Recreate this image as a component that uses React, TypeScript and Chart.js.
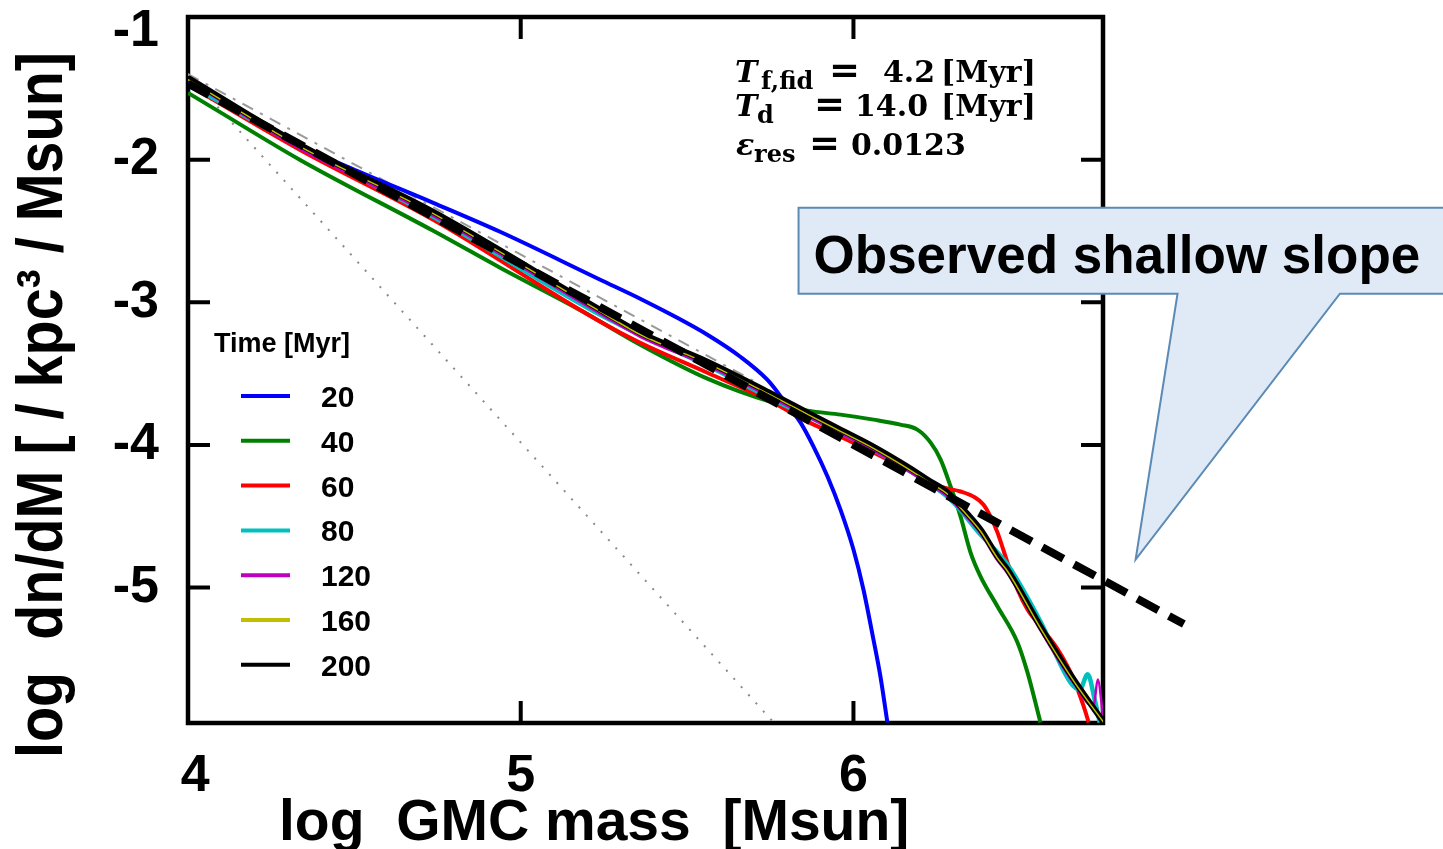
import React, { useEffect, useRef } from "react";
import { Chart, registerables } from "chart.js";

Chart.register(...registerables);

// ---------- axes ----------
const X_MIN = 4;
const X_MAX = 6.75;
const Y_MIN = -5.95;
const Y_MAX = -1;
const xTickValues = [4, 5, 6];
const yTickValues = [-1, -2, -3, -4, -5];

// ---------- series (log M, log dn/dM) ----------
const timeLabels = ["20", "40", "60", "80", "120", "160", "200"];
const timeColors = ["#0000ff", "#008000", "#ff0000", "#00c0c0", "#c000c0", "#c0c000", "#000000"];
const timeWidths = [4, 4, 4, 4.5, 2.5, 1.5, 6];

const logM20 = [4.0, 4.337, 4.487, 4.737, 4.938, 5.239, 5.359, 5.459, 5.561, 5.66, 5.741, 5.789, 5.841, 5.88, 5.922, 5.961, 6.0, 6.03, 6.06, 6.081, 6.102];
const logN20 = [-1.455, -1.897, -2.058, -2.303, -2.506, -2.842, -2.975, -3.095, -3.228, -3.382, -3.543, -3.683, -3.844, -4.012, -4.222, -4.454, -4.734, -5.014, -5.364, -5.623, -5.946];

const logM40 = [4.0, 4.075, 4.337, 4.737, 4.938, 5.188, 5.359, 5.561, 5.759, 5.862, 5.961, 6.06, 6.141, 6.192, 6.232, 6.262, 6.292, 6.322, 6.352, 6.382, 6.433, 6.493, 6.523, 6.562];
const logN40 = [-1.532, -1.637, -2.002, -2.499, -2.758, -3.067, -3.298, -3.536, -3.704, -3.76, -3.788, -3.823, -3.858, -3.893, -3.984, -4.103, -4.292, -4.503, -4.755, -4.923, -5.133, -5.385, -5.595, -5.946];

const logM60 = [4.0, 4.337, 4.737, 5.239, 5.359, 5.561, 5.759, 5.862, 5.961, 6.06, 6.162, 6.262, 6.322, 6.361, 6.391, 6.412, 6.433, 6.463, 6.493, 6.523, 6.562, 6.614, 6.662, 6.692, 6.707];
const logN60 = [-1.476, -1.932, -2.422, -3.137, -3.284, -3.494, -3.704, -3.837, -3.942, -4.054, -4.173, -4.292, -4.327, -4.363, -4.419, -4.503, -4.615, -4.825, -5.014, -5.154, -5.273, -5.434, -5.644, -5.834, -5.946];

const logM80 = [4.0, 4.337, 4.737, 5.239, 5.359, 5.561, 5.759, 5.961, 6.162, 6.292, 6.382, 6.463, 6.562, 6.652, 6.68, 6.704, 6.725, 6.74];
const logN80 = [-1.469, -1.911, -2.401, -3.088, -3.228, -3.445, -3.683, -3.914, -4.173, -4.384, -4.629, -4.839, -5.238, -5.665, -5.715, -5.609, -5.786, -5.946];

const logM120 = [4.0, 4.337, 4.737, 5.239, 5.359, 5.561, 5.759, 5.862, 5.961, 6.06, 6.162, 6.222, 6.283, 6.331, 6.382, 6.433, 6.463, 6.562, 6.662, 6.722, 6.734, 6.752];
const logN120 = [-1.445, -1.925, -2.394, -3.081, -3.242, -3.445, -3.676, -3.802, -3.921, -4.04, -4.18, -4.271, -4.362, -4.482, -4.622, -4.811, -4.902, -5.301, -5.672, -5.834, -5.645, -5.946];

const logM160 = [4.0, 4.337, 4.737, 5.239, 5.359, 5.561, 5.759, 5.862, 5.961, 6.06, 6.162, 6.222, 6.283, 6.331, 6.382, 6.433, 6.463, 6.562, 6.662, 6.752];
const logN160 = [-1.439, -1.909, -2.378, -3.065, -3.226, -3.429, -3.66, -3.786, -3.905, -4.024, -4.164, -4.255, -4.346, -4.466, -4.606, -4.795, -4.886, -5.285, -5.656, -5.946];

const logM200 = [4.0, 4.337, 4.737, 5.239, 5.359, 5.561, 5.759, 5.862, 5.961, 6.06, 6.162, 6.222, 6.283, 6.331, 6.382, 6.433, 6.463, 6.562, 6.662, 6.752];
const logN200 = [-1.427, -1.897, -2.366, -3.053, -3.214, -3.417, -3.648, -3.774, -3.893, -4.012, -4.152, -4.243, -4.334, -4.454, -4.594, -4.783, -4.874, -5.273, -5.644, -5.946];

// observed shallow slope (thick dashed)
const logMObs = [4.0, 6.993];
const logNObs = [-1.467, -5.256];
// grey dash-dot reference
const logMRef = [4.0, 5.7];
const logNRef = [-1.4, -3.552];
// grey dotted steep reference
const logMSteep = [4.0, 5.8];
const logNSteep = [-1.4, -6.05];

// callout (data coordinates)
const calloutBoxM = [5.835, 7.8];
const calloutBoxN = [-2.338, -2.94];
const calloutTailM = [6.974, 7.462];
const calloutTip = [6.848, -4.804];
const calloutTextPos = [5.88, -2.793];
const calloutText = "Observed shallow slope";

const SANS = "'Liberation Sans', Arial, Helvetica, sans-serif";
const SERIF = "'DejaVu Serif', serif";

const pts = (ms: number[], ns: number[]) => ms.map((m, i) => ({ x: m, y: ns[i] }));

const seriesM = [logM20, logM40, logM60, logM80, logM120, logM160, logM200];
const seriesN = [logN20, logN40, logN60, logN80, logN120, logN160, logN200];
// drawing order (lower = on top)
const seriesOrder = [9, 8, 7, 6, 5, 2, 3];

const framePlugin = {
  id: "frame",
  beforeDatasetsDraw(chart: any) {
    const { ctx, chartArea: a, scales } = chart;
    const xs = scales.x;
    const ys = scales.y;
    ctx.save();
    ctx.strokeStyle = "#000";
    ctx.lineWidth = 4.5;
    ctx.strokeRect(a.left, a.top, a.right - a.left, a.bottom - a.top);
    ctx.lineWidth = 4;
    const L = 22;
    ctx.beginPath();
    for (const v of xTickValues) {
      const px = xs.getPixelForValue(v);
      ctx.moveTo(px, a.bottom);
      ctx.lineTo(px, a.bottom - L);
      ctx.moveTo(px, a.top);
      ctx.lineTo(px, a.top + L);
    }
    for (const v of yTickValues) {
      const py = ys.getPixelForValue(v);
      ctx.moveTo(a.left, py);
      ctx.lineTo(a.left + L, py);
      ctx.moveTo(a.right, py);
      ctx.lineTo(a.right - L, py);
    }
    ctx.stroke();
    ctx.restore();
  },
};

const overlayPlugin = {
  id: "overlay",
  afterDraw(chart: any) {
    const { ctx, scales } = chart;
    const xs = scales.x;
    const ys = scales.y;
    const X = (v: number) => xs.getPixelForValue(v);
    const Y = (v: number) => ys.getPixelForValue(v);
    ctx.save();
    ctx.fillStyle = "#000";
    ctx.textBaseline = "alphabetic";
    ctx.textAlign = "left";

    // axis titles
    ctx.font = `bold 57px ${SANS}`;
    ctx.fillText("log  GMC mass  [Msun]", 279, 840);
    ctx.save();
    const yTitle = "log  dn/dM [ / kpc\u00b3 / Msun]";
    ctx.font = `bold 64px ${SANS}`;
    const w = ctx.measureText(yTitle).width;
    ctx.translate(62, 758);
    ctx.rotate(-Math.PI / 2);
    ctx.scale(706 / w, 1);
    ctx.fillText(yTitle, 0, 0);
    ctx.restore();

    // legend
    ctx.font = `bold 27px ${SANS}`;
    ctx.fillText("Time [Myr]", 214, 352);
    timeLabels.forEach((lab, i) => {
      const y = 396 + i * 44.8;
      ctx.strokeStyle = timeColors[i];
      ctx.lineWidth = 4;
      ctx.beginPath();
      ctx.moveTo(241, y);
      ctx.lineTo(290, y);
      ctx.stroke();
      ctx.font = `bold 30px ${SANS}`;
      ctx.fillText(lab, 321, y + 11);
    });

    // parameter annotation
    const drawLine = (sym: string, sub: string, symX: number, subX: number, base: number, eqX: number, parts: [string, number][]) => {
      ctx.font = `italic bold 30px ${SERIF}`;
      ctx.fillText(sym, symX, base);
      ctx.font = `bold 24px ${SERIF}`;
      ctx.fillText(sub, subX, base + 7);
      ctx.font = `bold 37px ${SERIF}`;
      ctx.fillText("=", eqX, base + 1);
      ctx.font = `bold 30px ${SERIF}`;
      for (const [t, x] of parts) ctx.fillText(t, x, base);
    };
    drawLine("T", "f,fid", 735, 761, 82, 829, [["4.2", 883], ["[Myr]", 941]]);
    drawLine("T", "d", 735, 757, 116, 814, [["14.0", 855], ["[Myr]", 941]]);
    drawLine("\u03b5", "res", 736, 754, 155, 809, [["0.0123", 851]]);

    // callout
    ctx.beginPath();
    ctx.moveTo(X(calloutBoxM[0]), Y(calloutBoxN[0]));
    ctx.lineTo(X(calloutBoxM[1]), Y(calloutBoxN[0]));
    ctx.lineTo(X(calloutBoxM[1]), Y(calloutBoxN[1]));
    ctx.lineTo(X(calloutTailM[1]), Y(calloutBoxN[1]));
    ctx.lineTo(X(calloutTip[0]), Y(calloutTip[1]));
    ctx.lineTo(X(calloutTailM[0]), Y(calloutBoxN[1]));
    ctx.lineTo(X(calloutBoxM[0]), Y(calloutBoxN[1]));
    ctx.closePath();
    ctx.fillStyle = "#dfeaf6";
    ctx.fill();
    ctx.strokeStyle = "#5b8ab5";
    ctx.lineWidth = 2;
    ctx.stroke();
    ctx.fillStyle = "#000";
    ctx.font = `bold 53px ${SANS}`;
    ctx.fillText(calloutText, X(calloutTextPos[0]), Y(calloutTextPos[1]));
    ctx.restore();
  },
};

export default function App() {
  const ref = useRef<HTMLCanvasElement | null>(null);
  useEffect(() => {
    const canvas = ref.current;
    if (!canvas) return;
    const datasets: any[] = timeLabels.map((lab, i) => ({
      label: lab,
      data: pts(seriesM[i], seriesN[i]),
      borderColor: timeColors[i],
      borderWidth: timeWidths[i],
      pointRadius: 0,
      cubicInterpolationMode: "monotone",
      fill: false,
      order: seriesOrder[i],
    }));
    datasets.push({
      label: "steep",
      data: pts(logMSteep, logNSteep),
      borderColor: "#8a8a8a",
      borderWidth: 2,
      borderDash: [2, 9],
      pointRadius: 0,
      order: 11,
    });
    datasets.push({
      label: "ref",
      data: pts(logMRef, logNRef),
      borderColor: "#999999",
      borderWidth: 2,
      borderDash: [12, 8, 3, 8],
      pointRadius: 0,
      order: 10,
    });
    datasets.push({
      label: "observed",
      data: pts(logMObs, logNObs),
      borderColor: "#000000",
      borderWidth: 8,
      borderDash: [24, 12],
      pointRadius: 0,
      clip: false,
      order: 0,
    });

    const tickFont = { family: SANS, size: 52, weight: "bold" as const };
    const chart = new Chart(canvas, {
      type: "line",
      data: { datasets },
      plugins: [framePlugin, overlayPlugin],
      options: {
        responsive: false,
        animation: false,
        devicePixelRatio: 1,
        layout: { padding: { top: 17, right: 340, left: 0, bottom: 0 } },
        plugins: { legend: { display: false }, tooltip: { enabled: false } },
        elements: { point: { radius: 0 }, line: { tension: 0 } },
        scales: {
          x: {
            type: "linear",
            min: X_MIN,
            max: X_MAX,
            afterBuildTicks: (s: any) => {
              s.ticks = xTickValues.map((v) => ({ value: v }));
            },
            afterFit: (s: any) => {
              s.height = 126;
              s.paddingLeft = 0;
              s.paddingRight = 0;
            },
            grid: { display: false, drawTicks: false },
            border: { display: false },
            ticks: {
              font: tickFont,
              color: "#000",
              padding: 22,
              maxRotation: 0,
              autoSkip: false,
              callback: (v: any) => (v === X_MIN ? " " + String(v) : String(v)),
            },
          },
          y: {
            type: "linear",
            min: Y_MIN,
            max: Y_MAX,
            afterBuildTicks: (s: any) => {
              s.ticks = yTickValues.map((v) => ({ value: v }));
            },
            afterFit: (s: any) => {
              s.width = 188;
              s.paddingTop = 0;
              s.paddingBottom = 0;
            },
            grid: { display: false, drawTicks: false },
            border: { display: false },
            ticks: {
              font: (c: any) => ({ ...tickFont, lineHeight: c.tick && c.tick.value === Y_MAX ? 0.58 : 1.2 }),
              color: "#000",
              padding: 29,
              autoSkip: false,
              callback: (v: any) => (v === Y_MAX ? ["", String(v)] : String(v)),
            },
          },
        },
      } as any,
    });
    return () => chart.destroy();
  }, []);

  return (
    <div style={{ position: "fixed", left: 0, top: 0, width: 1443, height: 849, background: "#fff" }}>
      <canvas ref={ref} width={1443} height={849} style={{ display: "block", width: 1443, height: 849 }} />
    </div>
  );
}
